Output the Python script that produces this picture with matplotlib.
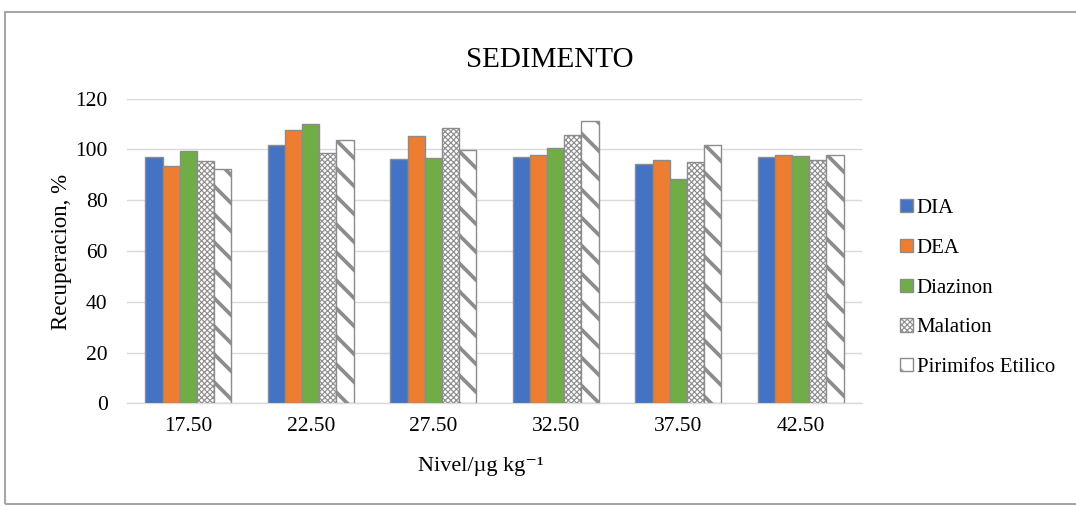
"""
Recuperacion por nivel de fortificacion en sedimento.
"""

import matplotlib
matplotlib.use("Agg")
import matplotlib.pyplot as plt
import matplotlib.patches as mpatches
import numpy as np

niveles = ["17.50", "22.50", "27.50", "32.50", "37.50", "42.50"]
series = ["DIA", "DEA", "Diazinon", "Malation", "Pirimifos Etilico"]

dia = [97.1, 101.7, 96.1, 97.0, 94.1, 97.0]
dea = [93.3, 107.5, 105.5, 97.8, 95.7, 97.9]
diazinon = [99.3, 110.0, 96.7, 100.7, 88.2, 97.5]
malation = [95.4, 98.8, 108.5, 105.6, 95.0, 95.8]
pirimifos = [92.4, 103.8, 99.6, 111.1, 101.6, 97.9]

valores = [dia, dea, diazinon, malation, pirimifos]
rellenos = ["#4472C4", "#ED7D31", "#70AD47", "white", "white"]
tramas = [None, None, None, "xxxxx", "\\"]
grosor_trama = [1.0, 1.0, 1.0, 1.0, 3.2]
BORDE = "#8c8c8c"
GRID = "#d9d9d9"

# dpi bajo para que la trama diagonal quede mas junta; K compensa los puntos
DPI = 84
K = 100 / DPI
W, H = 1076, 506

plt.rcParams["font.family"] = ["Liberation Serif", "DejaVu Serif"]

fig = plt.figure(figsize=(W / DPI, H / DPI), dpi=DPI)
ax = fig.add_axes([127 / W, 1 - 403.3 / H, (862 - 127) / W, (403.3 - 98.7) / H])

x = np.arange(len(niveles))
w = 0.14
for i, (nombre, vals) in enumerate(zip(series, valores)):
    off = (i - 2) * w
    with plt.rc_context({"hatch.linewidth": grosor_trama[i], "hatch.color": BORDE}):
        ax.bar(x + off, vals, width=w, color=rellenos[i], edgecolor=BORDE,
               linewidth=1.0 * K, hatch=tramas[i], label=nombre, zorder=3)

ax.set_xlim(-0.5, len(niveles) - 0.5)
ax.set_ylim(0, 120)
ax.set_yticks(range(0, 121, 20))
ax.set_xticks(x)
ax.set_xticklabels(niveles)
ax.tick_params(axis="both", length=0, labelsize=15.5 * K, colors="black")
ax.tick_params(axis="y", pad=14 * K)
ax.tick_params(axis="x", pad=10 * K)
ax.grid(axis="y", color=GRID, linewidth=1.0 * K)
ax.set_axisbelow(True)
for s in ["left", "right", "top"]:
    ax.spines[s].set_visible(False)
ax.spines["bottom"].set_color(GRID)
ax.spines["bottom"].set_linewidth(1.0 * K)

fig.text(550 / W, 1 - 60 / H, "SEDIMENTO", ha="center", va="center", fontsize=21 * K)
fig.text(62 / W, 1 - 252 / H, "Recuperacion, %", rotation=90,
         ha="center", va="center", fontsize=16.5 * K)
fig.text(481 / W, 1 - 466 / H, "Nivel/µg kg⁻¹", ha="center",
         va="center", fontsize=16 * K)

ax.legend(loc="center left", bbox_to_anchor=(900 / W, 1 - 288 / H),
          bbox_transform=fig.transFigure, frameon=False, fontsize=15 * K,
          handlelength=0.6, handleheight=0.6, handletextpad=0.2,
          labelspacing=1.0, borderaxespad=0, borderpad=0)

# marco exterior
fig.add_artist(mpatches.Rectangle((5 / W, 2 / H), 1.2, 1 - 14 / H,
                                  transform=fig.transFigure, fill=False,
                                  edgecolor="#a6a6a6", linewidth=1.5 * K))

fig.savefig("out.png", dpi=DPI)
